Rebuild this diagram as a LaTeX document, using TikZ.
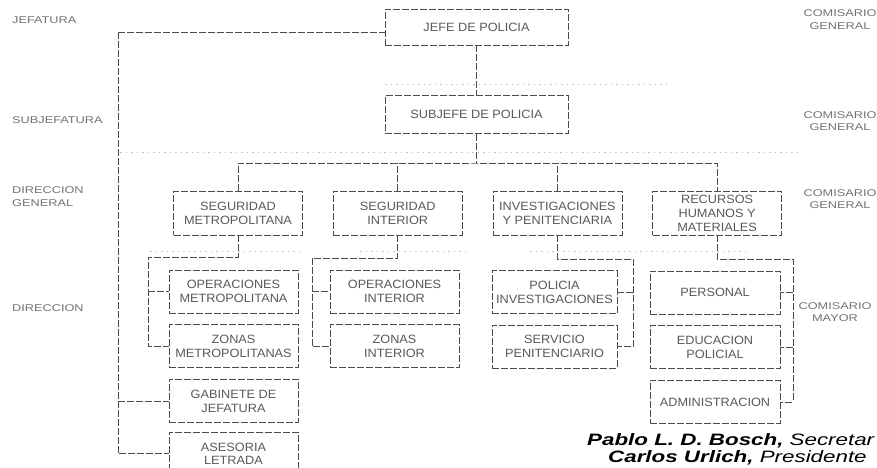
\documentclass[tikz,border=0pt]{standalone}
\usepackage{fontspec}
\setmainfont{Liberation Sans}
\newfontfamily\boxfont[FakeStretch=1.06]{Liberation Sans}
\newfontfamily\rankfont[FakeStretch=1.3]{Liberation Sans}
\newfontfamily\signfont[FakeStretch=1.355]{Liberation Sans}
\usetikzlibrary{positioning}

\begin{document}
\begin{tikzpicture}[x=1pt,y=-1pt,
          unit/.style={draw=black!70,dash pattern=on 7pt off 2pt,line width=0.7pt,rectangle,minimum width=129pt,minimum height=43pt,inner sep=1pt,align=center,text=black!65,font=\boxfont\fontsize{12}{14}\selectfont,node distance=11pt},
          rank/.style={align=center,text=black!55,font=\rankfont\fontsize{9.8}{12.5}\selectfont,inner sep=0pt},
          sign/.style={anchor=base west,inner sep=0pt,font=\signfont\fontsize{16.5}{17}\selectfont},
          link/.style={draw=black!70,dash pattern=on 7pt off 2pt,line width=0.7pt},
          faint/.style={draw=black!25,dash pattern=on 1.5pt off 4pt,line width=0.6pt}]

                \path[use as bounding box,fill=white] (0,0) rectangle (877,467);

                \draw[faint] (385,84) -- (667,84);
                \draw[faint] (120,152) -- (797,152);
                \draw[faint] (150,251) -- (300,251) (360,251) -- (470,251) (530,251) -- (750,251);

                \node[unit,minimum width=183pt,minimum height=36pt] (JP) at (476.5,27) {JEFE DE POLICIA};
                \node[unit,minimum width=183pt,minimum height=38pt] (SP) [below = 50pt of JP] {SUBJEFE DE POLICIA};

                \node[unit,minimum height=44pt] (SM) at (238,213) {SEGURIDAD\\METROPOLITANA};
                \node[unit,minimum height=44pt] (SI) [right = 30pt of SM] {SEGURIDAD\\INTERIOR};
                \node[unit,minimum height=44pt] (IP) [right = 30pt of SI] {INVESTIGACIONES\\Y PENITENCIARIA};
                \node[unit,minimum height=44pt] (RH) [right = 30pt of IP] {RECURSOS\\HUMANOS Y\\MATERIALES};

                \node[unit] (OM) at (233.5,291.5) {OPERACIONES\\METROPOLITANA};
                \node[unit] (ZM) [below = of OM] {ZONAS\\METROPOLITANAS};
                \node[unit] (GJ) [below = of ZM] {GABINETE DE\\JEFATURA};
                \node[unit,font=\boxfont\fontsize{12}{13}\selectfont] (AL) [below = 9pt of GJ] {ASESORIA\\LETRADA};

                \node[unit] (OI) at (394.5,291.5) {OPERACIONES\\INTERIOR};
                \node[unit] (ZI) [below = of OI] {ZONAS\\INTERIOR};

                \node[unit,minimum width=125pt] (PI) at (554.5,292) {POLICIA\\INVESTIGACIONES};
                \node[unit,minimum width=125pt] (SE) [below = of PI] {SERVICIO\\PENITENCIARIO};

                \node[unit,minimum width=130pt] (PE) at (715,292.5) {PERSONAL};
                \node[unit,minimum width=130pt] (EP) [below = of PE] {EDUCACION\\POLICIAL};
                \node[unit,minimum width=130pt] (AD) [below = of EP] {ADMINISTRACION};

                \coordinate (LB) at (118,32);
                \coordinate (BUS) at (476.5,163);
                \coordinate (KM) at (148,257);
                \coordinate (KI) at (312,258);
                \coordinate (KP) at (633,259);
                \coordinate (KR) at (793,259);

                \draw[link] (LB) -- (LB -| JP.west);
                \draw[link] (LB) |- (AL.west);
                \draw[link] (LB |- GJ.west) -- (GJ.west);
                \draw[link] (JP) -- (SP);
                \draw[link] (SP) -- (BUS);
                \draw[link] (SM.north) |- (BUS) -| (RH.north);
                \draw[link] (SI.north) -- (SI.north |- BUS);
                \draw[link] (IP.north) -- (IP.north |- BUS);

                \draw[link] (SM.south) |- (KM) |- (ZM.west);
                \draw[link] (KM |- OM.west) -- (OM.west);
                \draw[link] (SI.south) |- (KI) |- (ZI.west);
                \draw[link] (KI |- OI.west) -- (OI.west);
                \draw[link] (IP.south) |- (KP) |- (SE.east);
                \draw[link] (KP |- PI.east) -- (PI.east);
                \draw[link] (RH.south) |- (KR) |- (AD.east);
                \draw[link] (KR |- PE.east) -- (PE.east) (KR |- EP.east) -- (EP.east);

                \node[rank,anchor=west,align=left] (LJ) at (12,20.5) {JEFATURA};
                \node[rank,anchor=west,align=left] (LS) at (12,120) {SUBJEFATURA};
                \node[rank,anchor=west,align=left] (LDG) at (12,196.5) {DIRECCION\\GENERAL};
                \node[rank,anchor=west,align=left] (LD) at (12,308) {DIRECCION};

                \node[rank] (CG1) at (840,19.5) {COMISARIO\\GENERAL};
                \node[rank] (CG2) at (840,121) {COMISARIO\\GENERAL};
                \node[rank] (CG3) at (840,199) {COMISARIO\\GENERAL};
                \node[rank] (CM) at (835,312) {COMISARIO\\MAYOR};

                \node[sign] (PB) at (587,445) {\textbf{\textit{Pablo L. D. Bosch,}} \textit{Secretar}};
                \node[sign] (CU) at (608,462) {\textbf{\textit{Carlos Urlich,}} \textit{Presidente}};
              \end{tikzpicture}
\end{document}
